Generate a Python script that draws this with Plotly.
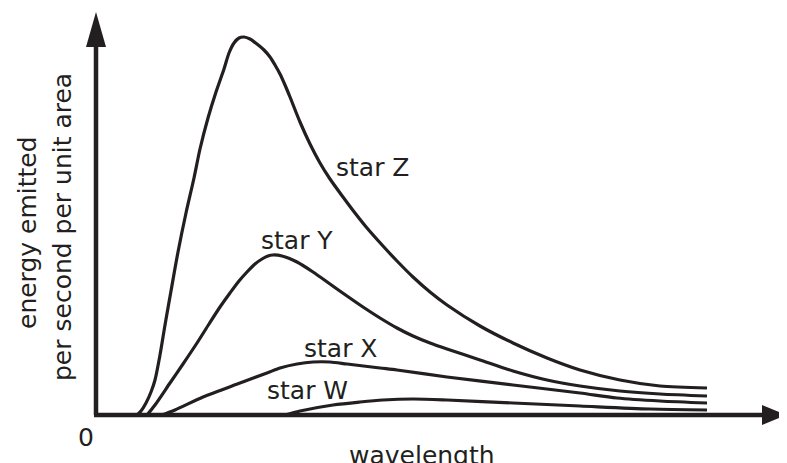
import plotly.graph_objects as go

# wavelength (arbitrary units) and energy (arbitrary units)
z_x = [41, 45, 50, 55, 59, 64, 69, 75, 82, 90, 98, 104, 112, 120, 128, 133, 138, 143, 148, 154,
       161, 168, 174, 179, 184, 189, 194, 204, 214, 224, 234, 247, 259, 271, 287, 301, 317,
       334, 351, 384, 417, 451, 484, 524, 564, 611]
z_y = [0, 4, 12, 23, 35, 60, 90, 124, 163, 202, 237, 266, 297, 323, 346, 362, 372, 377, 378, 376,
       371, 365, 358, 350, 341, 330, 318, 293, 271, 252, 236, 218, 202, 187, 169, 154, 138,
       123, 110, 89, 72, 57, 45, 35, 29, 27]

y_x = [51, 59, 74, 87, 101, 113, 124, 134, 143, 151, 159, 166, 172, 177, 186, 201, 217, 234, 251,
       267, 284, 301, 317, 334, 351, 384, 417, 451, 484, 524, 564, 611]
y_y = [0, 10, 32, 51, 72, 91, 108, 122, 134, 143, 151, 156, 159, 160, 159, 153, 143, 131, 119,
       108, 97, 87, 79, 72, 66, 55, 44, 35, 29, 24, 21, 19]

x_x = [66, 79, 107, 144, 171, 184, 201, 217, 234, 251, 284, 301, 351, 417, 484, 521, 564, 611]
x_y = [0, 5, 18, 32, 42, 47, 51, 53, 53, 51, 47, 45, 38, 30, 22, 17, 14, 12]

w_x = [189, 204, 237, 264, 287, 317, 351, 417, 484, 554, 611]
w_y = [0, 4, 10, 13, 15, 16, 15, 12, 9, 6, 5]

labels = ["star Z", "star Y", "star X", "star W"]
series = [(z_x, z_y), (y_x, y_y), (x_x, x_y), (w_x, w_y)]
label_pos = [(277, 248), (201, 175), (245, 67), (211, 25)]

INK = "#231f20"
FONT = "DejaVu Sans"
FS = 25

fig = go.Figure()
for name, (xs, ys) in zip(labels, series):
    fig.add_trace(go.Scatter(x=xs, y=ys, mode="lines", name=name,
                             line=dict(color=INK, width=3.2, shape="spline", smoothing=0.8),
                             hoverinfo="skip", showlegend=False))

for name, (lx, ly) in zip(labels, label_pos):
    fig.add_annotation(x=lx, y=ly, text=name, showarrow=False,
                       font=dict(family=FONT, size=FS, color=INK),
                       xanchor="center", yanchor="middle")

# axes with arrowheads
fig.add_shape(type="line", x0=0, y0=0, x1=0, y1=370, line=dict(color=INK, width=4.5))
fig.add_shape(type="path", path="M -10,368 L 10,368 L 0,403 Z", fillcolor=INK, line=dict(width=0))
fig.add_shape(type="line", x0=-2, y0=0, x1=668, y1=0, line=dict(color=INK, width=4.5))
fig.add_shape(type="path", path="M 666,-10 L 666,10 L 690,0 Z", fillcolor=INK, line=dict(width=0))

fig.add_annotation(x=-10, y=-22, text="0", showarrow=False,
                   font=dict(family=FONT, size=FS, color=INK), xanchor="center", yanchor="middle")
fig.add_annotation(x=326, y=-40, text="wavelength", showarrow=False,
                   font=dict(family=FONT, size=FS, color=INK), xanchor="center", yanchor="middle")
fig.add_annotation(x=-69, y=182, text="energy emitted", showarrow=False, textangle=-90,
                   font=dict(family=FONT, size=FS, color=INK), xanchor="center", yanchor="middle")
fig.add_annotation(x=-34, y=188, text="per second per unit area", showarrow=False, textangle=-90,
                   font=dict(family=FONT, size=FS, color=INK), xanchor="center", yanchor="middle")

# the page body adds an 8px offset, so the figure covers viewport pixels 8..787 x 8..463
fig.update_xaxes(range=[-88, 691], visible=False, fixedrange=True)
fig.update_yaxes(range=[-48, 407], visible=False, fixedrange=True)
fig.update_layout(width=779, height=455, autosize=False,
                  margin=dict(l=0, r=0, t=0, b=0, pad=0),
                  paper_bgcolor="white", plot_bgcolor="white")

fig.write_html("out.html", config={"displayModeBar": False})
